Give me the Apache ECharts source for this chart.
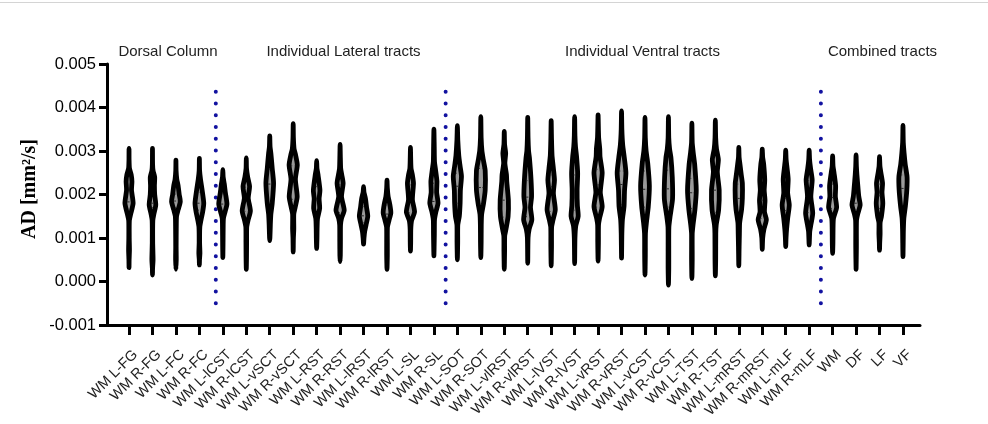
<!DOCTYPE html>
<html><head><meta charset="utf-8">
<script src="https://cdn.jsdelivr.net/npm/echarts@6/dist/echarts.min.js"></script>
<style>html,body{margin:0;padding:0;background:#fff}#c{width:988px;height:424px}</style>
</head><body><div id="c"></div>
<script>
// ---------------- DATA ----------------
const categories = ['WM L-FG','WM R-FG','WM L-FC','WM R-FC','WM L-lCST','WM R-lCST','WM L-vSCT','WM R-vSCT','WM L-RST','WM R-RST','WM L-lRST','WM R-lRST','WM L-SL','WM R-SL','WM L-SOT','WM R-SOT','WM L-vlRST','WM R-vlRST','WM L-lVST','WM R-lVST','WM L-vRST','WM R-vRST','WM L-vCST','WM R-vCST','WM L-TST','WM R-TST','WM L-mRST','WM R-mRST','WM L-mLF','WM R-mLF','WM','DF','LF','VF'];
const groupLabels = ['Dorsal Column','Individual Lateral tracts','Individual Ventral tracts','Combined tracts'];
const yAxisTitle = 'AD [mm²/s]';
const yMin = -0.001, yMax = 0.005, yStep = 0.001;
// values below are in units of 1e-3 mm²/s
const valueUnit = 1e-3;
const maxVals = [3.06,3.06,2.79,2.83,2.57,2.84,3.35,3.63,2.78,3.15,2.18,2.33,3.08,3.50,3.58,3.79,3.45,3.77,3.70,3.79,3.83,3.92,3.77,3.79,3.64,3.71,3.08,3.04,3.02,3.02,2.89,2.91,2.87,3.59];
const minVals = [0.32,0.15,0.28,0.38,0.55,0.28,0.94,0.68,0.76,0.46,0.86,0.28,0.70,0.59,0.50,0.55,0.28,0.42,0.36,0.41,0.47,0.54,0.15,-0.08,0.07,0.13,0.36,0.74,0.80,0.84,0.65,0.28,0.72,0.57];
const medians = [1.83,1.80,1.85,1.80,1.78,1.88,2.24,2.32,1.87,1.93,1.51,1.55,1.93,1.84,2.19,2.16,1.87,1.94,2.18,2.09,2.22,2.23,2.12,2.13,2.04,2.10,1.91,1.87,1.91,1.91,1.93,1.80,1.97,2.14];
const q1s = [1.66,1.70,1.70,1.64,1.60,1.61,1.81,1.89,1.62,1.58,1.35,1.41,1.58,1.64,1.80,1.77,1.48,1.49,1.61,1.64,1.71,1.77,1.71,1.71,1.68,1.59,1.61,1.45,1.63,1.58,1.68,1.64,1.68,1.71];
const q3s = [2.18,2.20,2.01,2.05,2.02,2.17,2.58,2.66,2.18,2.23,1.72,1.76,2.22,2.26,2.49,2.60,2.33,2.32,2.45,2.45,2.58,2.54,2.54,2.56,2.37,2.64,2.24,2.32,2.32,2.32,2.24,2.10,2.24,2.45];
// density profile knots: [value, relative density]
const densityProfiles = [
 [[2.8,0.05],[2.6,0.12],[2.45,0.45],[2.3,0.58],[2.1,0.5],[1.8,0.8],[1.55,0.35],[1.4,0.1],[1.0,0.08],[0.72,0.12],[0.5,0.06]],
 [[2.7,0.06],[2.55,0.15],[2.4,0.45],[2.2,0.4],[2.0,0.45],[1.76,0.65],[1.55,0.3],[1.4,0.1],[0.9,0.08],[0.5,0.15],[0.3,0.06]],
 [[2.55,0.07],[2.35,0.2],[2.2,0.45],[2.0,0.65],[1.84,0.85],[1.65,0.45],[1.5,0.15],[1.2,0.1],[0.8,0.08],[0.5,0.1]],
 [[2.55,0.08],[2.35,0.25],[2.1,0.55],[1.8,0.85],[1.6,0.65],[1.42,0.35],[1.25,0.12],[0.9,0.08],[0.65,0.14],[0.5,0.06]],
 [[2.4,0.1],[2.25,0.3],[2.05,0.5],[1.78,0.8],[1.6,0.45],[1.45,0.15],[1.2,0.1],[0.9,0.08]],
 [[2.6,0.08],[2.4,0.3],[2.18,0.65],[1.92,0.4],[1.62,0.8],[1.4,0.35],[1.25,0.12],[0.9,0.1],[0.55,0.08]],
 [[3.1,0.1],[2.95,0.25],[2.6,0.5],[2.26,0.75],[1.8,0.5],[1.55,0.25],[1.3,0.15],[1.1,0.1]],
 [[3.3,0.08],[3.05,0.2],[2.9,0.5],[2.68,0.8],[2.35,0.45],[1.95,0.78],[1.7,0.4],[1.55,0.15],[1.2,0.15],[1.0,0.08]],
 [[2.6,0.1],[2.45,0.3],[2.1,0.65],[1.9,0.5],[1.68,0.6],[1.45,0.2],[1.2,0.12],[1.0,0.1]],
 [[2.9,0.08],[2.6,0.15],[2.45,0.35],[2.26,0.6],[1.95,0.3],[1.64,0.8],[1.45,0.3],[1.3,0.12],[0.9,0.1],[0.6,0.08]],
 [[2.05,0.12],[1.9,0.4],[1.7,0.6],[1.5,0.82],[1.3,0.5],[1.15,0.25],[1.0,0.12]],
 [[2.15,0.1],[1.95,0.25],[1.78,0.55],[1.58,0.75],[1.4,0.4],[1.25,0.12],[0.9,0.1],[0.6,0.1]],
 [[2.85,0.08],[2.6,0.15],[2.45,0.4],[2.26,0.6],[1.88,0.4],[1.6,0.8],[1.4,0.25],[1.2,0.1],[0.9,0.08]],
 [[3.1,0.1],[2.75,0.15],[2.56,0.35],[2.3,0.6],[2.05,0.55],[1.8,0.8],[1.6,0.4],[1.42,0.15],[1.1,0.12],[0.8,0.08]],
 [[3.25,0.12],[2.9,0.3],[2.65,0.55],[2.42,0.8],[2.1,0.6],[1.8,0.55],[1.5,0.4],[1.3,0.12],[0.9,0.1]],
 [[3.3,0.1],[3.0,0.25],[2.8,0.5],[2.55,0.85],[2.1,0.85],[1.8,0.55],[1.55,0.2],[1.3,0.12],[0.9,0.1]],
 [[3.15,0.1],[2.95,0.3],[2.72,0.15],[2.45,0.45],[2.3,0.5],[1.87,0.8],[1.5,0.75],[1.2,0.35],[1.05,0.12],[0.7,0.1]],
 [[3.3,0.1],[3.0,0.2],[2.85,0.35],[2.35,0.65],[1.95,0.75],[1.7,0.55],[1.42,0.8],[1.2,0.3],[1.0,0.1]],
 [[3.3,0.1],[2.9,0.2],[2.6,0.45],[2.33,0.65],[2.03,0.45],[1.65,0.8],[1.4,0.35],[1.25,0.12],[0.8,0.1]],
 [[3.35,0.1],[3.1,0.2],[2.87,0.4],[2.49,0.6],[2.1,0.5],[1.75,0.55],[1.5,0.7],[1.28,0.25],[1.0,0.1]],
 [[3.5,0.1],[3.3,0.15],[3.05,0.35],[2.87,0.4],[2.5,0.8],[2.05,0.45],[1.72,0.8],[1.45,0.3],[1.3,0.12],[0.9,0.1]],
 [[3.5,0.1],[3.15,0.25],[2.85,0.55],[2.5,0.85],[2.1,0.6],[1.72,0.5],[1.42,0.2],[1.1,0.1]],
 [[3.3,0.1],[3.0,0.25],[2.72,0.55],[2.2,0.85],[1.72,0.65],[1.35,0.3],[1.1,0.12],[0.6,0.1]],
 [[3.3,0.1],[3.05,0.25],[2.85,0.5],[2.4,0.75],[1.9,0.8],[1.5,0.35],[1.25,0.12],[0.7,0.1],[0.3,0.1]],
 [[3.2,0.1],[2.95,0.3],[2.7,0.55],[2.1,0.85],[1.65,0.6],[1.3,0.25],[1.1,0.1],[0.5,0.1]],
 [[3.3,0.1],[3.05,0.25],[2.8,0.6],[2.52,0.4],[2.1,0.75],[1.65,0.65],[1.3,0.2],[1.1,0.12],[0.5,0.1]],
 [[2.85,0.1],[2.7,0.25],[2.45,0.5],[2.26,0.7],[1.92,0.7],[1.65,0.55],[1.35,0.2],[1.1,0.15],[0.8,0.1]],
 [[2.85,0.12],[2.7,0.3],[2.33,0.5],[2.1,0.4],[1.87,0.55],[1.6,0.45],[1.42,0.8],[1.2,0.35],[1.0,0.12]],
 [[2.8,0.12],[2.6,0.3],[2.35,0.5],[2.03,0.4],[1.76,0.7],[1.45,0.4],[1.2,0.2],[1.0,0.1]],
 [[2.8,0.12],[2.6,0.3],[2.33,0.6],[1.95,0.35],[1.57,0.7],[1.3,0.35],[1.15,0.15]],
 [[2.65,0.12],[2.5,0.3],[2.2,0.6],[1.95,0.55],[1.7,0.78],[1.45,0.2],[1.2,0.12],[0.9,0.1]],
 [[2.65,0.1],[2.45,0.2],[2.15,0.4],[1.95,0.55],[1.76,0.8],[1.55,0.35],[1.4,0.12],[0.8,0.1]],
 [[2.65,0.12],[2.5,0.3],[2.26,0.6],[2.05,0.5],[1.8,0.65],[1.5,0.4],[1.35,0.15],[1.1,0.15],[0.9,0.08]],
 [[3.2,0.1],[2.95,0.25],[2.7,0.45],[2.4,0.8],[2.1,0.75],[1.75,0.5],[1.45,0.2],[1.2,0.12]]
];

// ---------------- RENDER ----------------
const FONT = 'Arial, "Liberation Sans", sans-serif';
const dividerAt = [3.7, 13.5, 29.5];
const dividerTop = 0.00436, dividerBottom = -0.00077;

function widthAt(knots, v) {
  for (let k = 0; k < knots.length - 1; k++) {
    const a = knots[k], b = knots[k + 1];
    if (v <= a[0] && v >= b[0]) {
      const t = (a[0] - v) / (a[0] - b[0] || 1);
      return a[1] + (b[1] - a[1]) * t;
    }
  }
  return 0;
}

function renderViolin(params, api) {
  const i = api.value(0);
  const band = api.size([1, 0])[0];
  const unit = band * 0.23;
  const knots = [[maxVals[i], 0]].concat(densityProfiles[i], [[minVals[i], 0]]);
  const cx = api.coord([i, 0])[0];
  const pts = knots.map(k => [api.coord([i, k[0] * valueUnit])[1], Math.max(0, k[1] - 0.04) * unit]);
  const right = pts.map(p => [cx + p[1], p[0]]);
  const left = pts.slice(1, -1).reverse().map(p => [cx - p[1], p[0]]);
  const children = [{
    type: 'polygon',
    shape: { points: right.concat(left), smooth: 0.22 },
    style: { fill: '#9a9a9a', stroke: '#000', lineWidth: 4.8, lineJoin: 'round' }
  }];
  const lines = [[medians[i], [2.5, 1.5]], [q1s[i], [1, 2.5]], [q3s[i], [1, 2.5]]];
  lines.forEach(function (l) {
    const hw = (widthAt(knots, l[0]) - 0.04) * unit - 2.0;
    if (hw > 0.5) {
      const y = api.coord([i, l[0] * valueUnit])[1];
      children.push({
        type: 'line',
        shape: { x1: cx - hw, y1: y, x2: cx + hw, y2: y },
        style: { stroke: '#2a2a2a', lineWidth: 1, lineDash: l[1] }
      });
    }
  });
  return { type: 'group', children: children };
}

function renderDividers(params, api) {
  const children = dividerAt.map(function (d) {
    const a = Math.floor(d);
    const xa = api.coord([a, 0])[0], xb = api.coord([a + 1, 0])[0];
    const x = xa + (xb - xa) * (d - a);
    const y1 = api.coord([0, dividerTop])[1], y2 = api.coord([0, dividerBottom])[1];
    return {
      type: 'line',
      shape: { x1: x, y1: y1, x2: x, y2: y2 },
      style: { stroke: '#1212a0', lineWidth: 4, lineDash: [0, 11.75], lineCap: 'round' }
    };
  });
  return { type: 'group', children: children };
}

const chart = echarts.init(document.getElementById('c'), null, { renderer: 'canvas' });
const groupX = [168, 343.5, 642.5, 882.5];

chart.setOption({
  animation: false,
  backgroundColor: '#fff',
  grid: [
    { left: 107, right: 68, top: 64, bottom: 99 },
    { left: 117.3, right: 73.3, top: 64, bottom: 99 }
  ],
  xAxis: [
    { type: 'value', gridIndex: 0, min: 0, max: 1, position: 'bottom',
      axisLine: { show: true, onZero: false, lineStyle: { color: '#000', width: 3 } },
      axisTick: { show: false }, axisLabel: { show: false }, splitLine: { show: false } },
    { type: 'category', gridIndex: 1, data: categories, boundaryGap: true, position: 'bottom',
      axisLine: { show: false, onZero: false },
      axisTick: { show: true, alignWithLabel: true, length: 10, lineStyle: { color: '#000', width: 3 } },
      axisLabel: { rotate: 45, interval: 0, margin: 21, fontSize: 14.5, lineHeight: 18, verticalAlign: 'top',
        color: '#222', fontFamily: FONT },
      splitLine: { show: false } }
  ],
  yAxis: [
    { type: 'value', gridIndex: 0, min: yMin, max: yMax, interval: yStep,
      axisLine: { show: true, lineStyle: { color: '#000', width: 3 } },
      axisTick: { show: true, length: 8, lineStyle: { color: '#000', width: 3 } },
      axisLabel: { fontSize: 16.5, color: '#000', fontFamily: FONT, margin: 11,
        formatter: function (v) { return (Math.round(v * 1e6) / 1e6).toFixed(3); } },
      splitLine: { show: false } },
    { type: 'value', gridIndex: 1, min: yMin, max: yMax, show: false }
  ],
  graphic: [
    { type: 'line', shape: { x1: 0, y1: 2.5, x2: 988, y2: 2.5 }, style: { stroke: '#d4d4d4', lineWidth: 1 } },
    { type: 'text', x: 30, y: 189, rotation: Math.PI / 2,
      style: { text: yAxisTitle, font: 'bold 20px "Liberation Serif", "Times New Roman", serif', fill: '#000',
        textAlign: 'center', textVerticalAlign: 'middle' } }
  ].concat(groupLabels.map(function (t, k) {
    return { type: 'text', x: groupX[k], y: 52,
      style: { text: t, font: '15px ' + FONT, fill: '#222', textAlign: 'center', textVerticalAlign: 'middle' } };
  })),
  series: [
    { type: 'custom', xAxisIndex: 1, yAxisIndex: 1, renderItem: renderDividers, data: [[0]], silent: true, clip: false },
    { type: 'custom', xAxisIndex: 1, yAxisIndex: 1, renderItem: renderViolin,
      data: categories.map(function (c, i) { return [i]; }), silent: true, clip: false }
  ]
});
</script>
</body></html>
